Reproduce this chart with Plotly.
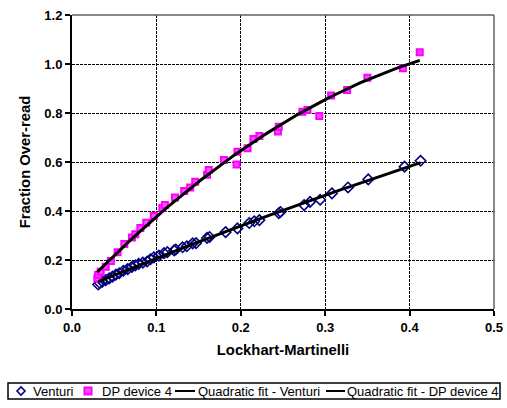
import numpy as np
import plotly.graph_objects as go

# Venturi data (Lockhart-Martinelli, Fraction over-read)
venturi_x = [0.031, 0.033, 0.036, 0.040, 0.044, 0.048, 0.052, 0.056, 0.061, 0.066,
             0.071, 0.075, 0.079, 0.084, 0.089, 0.093, 0.097, 0.103, 0.109, 0.113,
             0.121, 0.123, 0.131, 0.136, 0.143, 0.147, 0.160, 0.163, 0.182, 0.196,
             0.210, 0.216, 0.222, 0.245, 0.247, 0.275, 0.282, 0.294, 0.308, 0.327,
             0.351, 0.394, 0.413]
venturi_y = [0.100, 0.106, 0.112, 0.118, 0.125, 0.132, 0.140, 0.146, 0.156, 0.163,
             0.172, 0.178, 0.184, 0.189, 0.194, 0.203, 0.211, 0.218, 0.228, 0.232,
             0.239, 0.243, 0.252, 0.256, 0.268, 0.269, 0.290, 0.294, 0.314, 0.329,
             0.351, 0.358, 0.363, 0.391, 0.396, 0.424, 0.437, 0.446, 0.472, 0.496,
             0.529, 0.581, 0.605]

# DP device 4 data
dp_x = [0.030, 0.031, 0.034, 0.040, 0.046, 0.054, 0.062, 0.071, 0.075, 0.081,
        0.088, 0.097, 0.107, 0.110, 0.122, 0.133, 0.140, 0.146, 0.160, 0.162,
        0.180, 0.195, 0.196, 0.208, 0.215, 0.222, 0.244, 0.245, 0.273, 0.279,
        0.293, 0.307, 0.326, 0.350, 0.392, 0.412]
dp_y = [0.125, 0.140, 0.152, 0.172, 0.196, 0.232, 0.265, 0.292, 0.305, 0.331,
        0.352, 0.380, 0.412, 0.424, 0.455, 0.482, 0.496, 0.519, 0.548, 0.567,
        0.608, 0.590, 0.642, 0.656, 0.694, 0.706, 0.724, 0.744, 0.805, 0.812,
        0.788, 0.871, 0.894, 0.944, 0.983, 1.048]

x_ticks = [0.0, 0.1, 0.2, 0.3, 0.4, 0.5]
y_ticks = [0.0, 0.2, 0.4, 0.6, 0.8, 1.0, 1.2]
series_names = ["Venturi", "DP device 4", "Quadratic fit - Venturi",
                "Quadratic fit - DP device 4"]

FONT = "Liberation Sans, Arial, sans-serif"
NAVY = "#000080"
MAGENTA = "#FF00FF"
MAG_FILL = "#FF4DFF"

W, H = 507, 408
ML, MR, MT, MB = 72, 13, 15, 99
PW, PH = W - ML - MR, H - MT - MB


def px_x(p):
    return (p - ML) / PW


def px_y(p):
    return (H - MB - p) / PH


# Quadratic fits computed from the data
cv = np.polyfit(venturi_x, venturi_y, 2)
cd = np.polyfit(dp_x, dp_y, 2)
fx_v = np.linspace(min(venturi_x), max(venturi_x), 100)
fx_d = np.linspace(min(dp_x), max(dp_x), 100)

fig = go.Figure()
fig.add_trace(go.Scatter(x=venturi_x, y=venturi_y, mode="markers", name=series_names[0],
                         marker=dict(symbol="diamond-open", size=8, color=NAVY,
                                     line=dict(width=1.6, color=NAVY))))
fig.add_trace(go.Scatter(x=dp_x, y=dp_y, mode="markers", name=series_names[1],
                         marker=dict(symbol="square", size=6, color=MAG_FILL,
                                     line=dict(width=2, color=MAGENTA))))
fig.add_trace(go.Scatter(x=fx_v, y=np.polyval(cv, fx_v), mode="lines",
                         name=series_names[2], line=dict(color="black", width=3)))
fig.add_trace(go.Scatter(x=fx_d, y=np.polyval(cd, fx_d), mode="lines",
                         name=series_names[3], line=dict(color="black", width=3)))

axis_common = dict(
    automargin=False,
    showgrid=True, gridcolor="black", gridwidth=1, griddash="3px,1px",
    zeroline=False, showline=True, linecolor="black", linewidth=2,
    ticks="outside", ticklen=5, tickwidth=1.5, tickcolor="black",
    tickfont=dict(family=FONT, size=13, color="black", weight="bold"),
    tickformat=".1f",
)

# Manual legend (box, symbols, text)
row_y = px_y(391)
shapes = [
    dict(type="line", xref="paper", yref="paper", x0=0, x1=1, y0=1, y1=1,
         line=dict(color="#606060", width=1.5), layer="above"),
    dict(type="line", xref="paper", yref="paper", x0=1, x1=1, y0=0, y1=1,
         line=dict(color="#606060", width=1.5), layer="above"),
    dict(type="rect", xref="paper", yref="paper", x0=px_x(8), x1=px_x(500),
         y0=px_y(399), y1=px_y(383), line=dict(color="black", width=1.5),
         fillcolor="white"),
    # diamond symbol
    dict(type="path", xref="paper", yref="paper", xsizemode="pixel", ysizemode="pixel",
         xanchor=px_x(21), yanchor=row_y, path="M -4,0 L 0,4 L 4,0 L 0,-4 Z",
         line=dict(color=NAVY, width=1.6)),
    # square symbol
    dict(type="rect", xref="paper", yref="paper", xsizemode="pixel", ysizemode="pixel",
         xanchor=px_x(88), yanchor=row_y, x0=-3.5, x1=3.5, y0=-3.5, y1=3.5,
         line=dict(color=MAGENTA, width=2), fillcolor=MAG_FILL),
    # line symbols
    dict(type="line", xref="paper", yref="paper", x0=px_x(175), x1=px_x(195),
         y0=row_y, y1=row_y, line=dict(color="black", width=2)),
    dict(type="line", xref="paper", yref="paper", x0=px_x(326), x1=px_x(345),
         y0=row_y, y1=row_y, line=dict(color="black", width=2)),
]

text_left = [32, 101, 197, 346]
annotations = [
    dict(text=t, x=px_x(xl), y=row_y, xref="paper", yref="paper",
         xanchor="left", yanchor="middle", showarrow=False, borderpad=0,
         font=dict(family=FONT, size=13, color="black"))
    for t, xl in zip(series_names, text_left)
]

fig.update_layout(
    width=W, height=H,
    margin=dict(l=ML, r=MR, t=MT, b=MB, autoexpand=False),
    paper_bgcolor="white", plot_bgcolor="white",
    font=dict(family=FONT, color="black"),
    showlegend=False,
    xaxis=dict(range=[0, 0.5], tickvals=x_ticks, **axis_common,
               title=dict(text="Lockhart-Martinelli", standoff=11,
                          font=dict(family=FONT, size=14.8, color="black", weight="bold"))),
    yaxis=dict(range=[0, 1.2], tickvals=y_ticks, **axis_common,
               title=dict(text="Fraction Over-read", standoff=10,
                          font=dict(family=FONT, size=14.8, color="black", weight="bold"))),
    shapes=shapes,
    annotations=annotations,
)

fig.write_html("out.html")
